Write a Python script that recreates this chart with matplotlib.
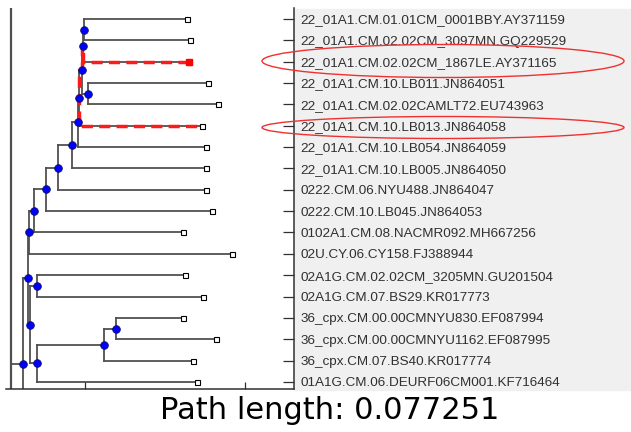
import matplotlib
matplotlib.use("Agg")
import matplotlib.pyplot as plt
from matplotlib.patches import Rectangle, Ellipse

# leaves, top to bottom (y = 1..18), distance from root of each tip
leaf_names = [
    "22_01A1.CM.01.01CM_0001BBY.AY371159",
    "22_01A1.CM.02.02CM_3097MN.GQ229529",
    "22_01A1.CM.02.02CM_1867LE.AY371165",
    "22_01A1.CM.10.LB011.JN864051",
    "22_01A1.CM.02.02CAMLT72.EU743963",
    "22_01A1.CM.10.LB013.JN864058",
    "22_01A1.CM.10.LB054.JN864059",
    "22_01A1.CM.10.LB005.JN864050",
    "0222.CM.06.NYU488.JN864047",
    "0222.CM.10.LB045.JN864053",
    "0102A1.CM.08.NACMR092.MH667256",
    "02U.CY.06.CY158.FJ388944",
    "02A1G.CM.02.02CM_3205MN.GU201504",
    "02A1G.CM.07.BS29.KR017773",
    "36_cpx.CM.00.00CMNYU830.EF087994",
    "36_cpx.CM.00.00CMNYU1162.EF087995",
    "36_cpx.CM.07.BS40.KR017774",
    "01A1G.CM.06.DEURF06CM001.KF716464",
]
leaf_dist = [0.0454, 0.0461, 0.0459, 0.0506, 0.0531, 0.0491, 0.0501, 0.0501, 0.0501,
             0.0516, 0.0444, 0.0566, 0.0449, 0.0494, 0.0444, 0.0526, 0.0469, 0.0479]

# internal nodes: children (int = leaf number, str = node) and distance from root
node_names = ["A", "B", "E", "C", "D", "F", "G", "H", "I", "J", "K",
              "M", "R", "Q", "P", "N", "L", "O"]
node_children = [(1, 2), ("A", 3), (4, 5), ("B", "E"), ("C", 6), ("D", 7), ("F", 8),
                 ("G", 9), ("H", 10), ("I", 11), ("J", 12), (13, 14), (15, 16),
                 ("R", 17), ("Q", 18), ("M", "P"), ("K", "N"), ("L", "X")]
node_dist = [0.0196, 0.0194, 0.0206, 0.0191, 0.0184, 0.0181, 0.0166, 0.0131, 0.0101,
             0.0071, 0.0059, 0.0079, 0.0276, 0.0246, 0.0079, 0.0061, 0.0056, 0.0044]

# part of the tree that lies outside the zoomed view
hidden_y = {"X": 21.2}
stem_dist = 0.00125
stem_span = (-3, 25)

# highlighted path between two leaves: up from leaf 3 to D, then down to leaf 6
path_up = [3, "B", "C", "D"]
path_down = ["D", 6]
path_length = "Path length: 0.077251"

# ---- layout
ypos = {i + 1: float(i + 1) for i in range(len(leaf_names))}
xpos = {i + 1: d for i, d in enumerate(leaf_dist)}
ypos.update(hidden_y)
parent = {}
for name, ch, d in zip(node_names, node_children, node_dist):
    xpos[name] = d
    ypos[name] = sum(ypos[c] for c in ch) / len(ch)
    for c in ch:
        parent[c] = name

fig = plt.figure(figsize=(6.31, 4.32), dpi=100)
fig.patches.append(Rectangle((295 / 631, 42 / 432), 336 / 631, 381 / 432,
                             transform=fig.transFigure, color="#f0f0f0", zorder=-1))
ax = fig.add_axes([5.5 / 631, 43 / 432, 289 / 631, 380.5 / 432])

lc = "#505050"
lw = 1.3
# verticals
for name, ch in zip(node_names, node_children):
    ys = [ypos[c] for c in ch]
    ax.plot([xpos[name]] * 2, [min(ys), max(ys)], color=lc, lw=lw, zorder=1)
ax.plot([stem_dist] * 2, stem_span, color=lc, lw=1.6, zorder=1)
# horizontals
for c, p in parent.items():
    if c in hidden_y:
        continue
    ax.plot([xpos[p], xpos[c]], [ypos[c]] * 2, color=lc, lw=lw, zorder=1)
ax.plot([stem_dist, xpos["O"]], [ypos["O"]] * 2, color=lc, lw=lw, zorder=1)

# highlighted path
px, py = [xpos[path_up[0]]], [ypos[path_up[0]]]
for c, p in zip(path_up[:-1], path_up[1:]):
    px += [xpos[p], xpos[p]]
    py += [ypos[c], ypos[p]]
for p, c in zip(path_down[:-1], path_down[1:]):
    px += [xpos[p], xpos[c]]
    py += [ypos[c], ypos[c]]
ax.plot(px, py, color="#ff1a1a", lw=2.5, ls=(0, (3.2, 1.8)), zorder=2)

# markers
ax.plot(node_dist, [ypos[n] for n in node_names], "o", ms=5.5, mfc="#0000ff",
        mec="#101060", mew=0.6, zorder=4)
ax.plot(leaf_dist, list(range(1, len(leaf_names) + 1)), "s", ms=3.6, mfc="white",
        mec="black", mew=0.8, zorder=4)
ax.plot([xpos[path_up[0]]], [ypos[path_up[0]]], "s", ms=4, mfc="#ff0000",
        mec="#ff0000", zorder=5)

ax.set_xlim(0, 0.07225)
ax.set_ylim(18.33, 0.51)
ax.set_xticks([0.02, 0.06])
ax.set_xticklabels([])
ax.yaxis.tick_right()
ax.set_yticks(range(1, len(leaf_names) + 1))
ax.set_yticklabels(leaf_names, fontsize=9.7, family="Liberation Sans", color="#303030")
ax.tick_params(axis="y", direction="in", length=8, width=0.9, color="#303030", pad=4)
ax.tick_params(axis="x", direction="in", length=5, width=0.9, color="#303030")
for s in ["top", "left"]:
    ax.spines[s].set_visible(False)
for s in ["bottom", "right"]:
    ax.spines[s].set_color("#303030")
    ax.spines[s].set_linewidth(1.1)

# red circles drawn on top
for cx, cy, w, h in [(443, 61, 362, 33), (443, 127.5, 362, 22)]:
    fig.patches.append(Ellipse((cx / 631, 1 - cy / 432), w / 631, h / 432,
                               transform=fig.transFigure, fill=False,
                               ec="#f03030", lw=1.0, zorder=10))

fig.text(330 / 631, 13 / 432, path_length, ha="center", va="baseline",
         fontsize=22, family="DejaVu Sans", color="black")

fig.savefig("out.png", dpi=100, facecolor="white")
